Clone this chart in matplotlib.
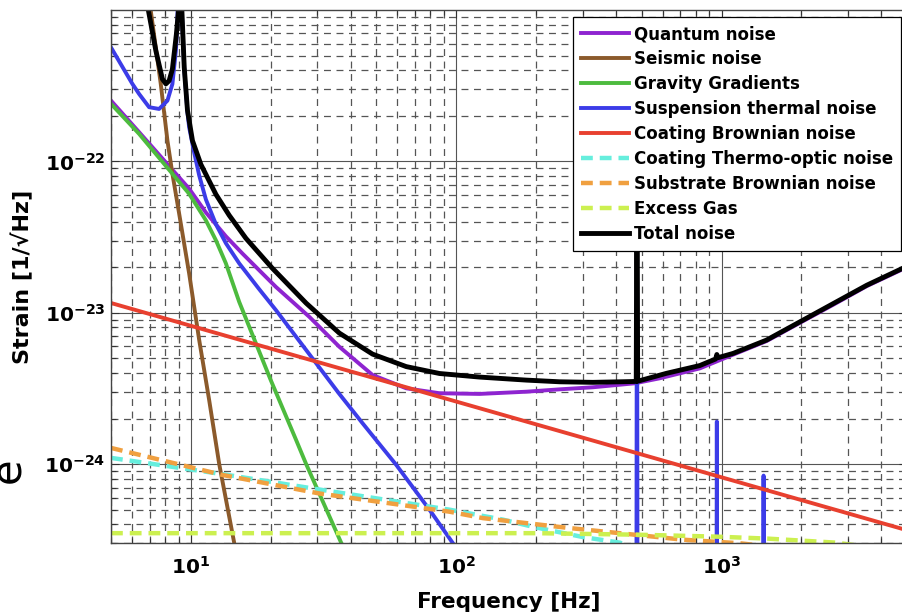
import numpy as np
import matplotlib
matplotlib.use("Agg")
import matplotlib.pyplot as plt
from matplotlib.ticker import LogLocator, FuncFormatter, NullFormatter

plt.rcParams['font.family'] = ['DejaVu Sans']
plt.rcParams['mathtext.fontset'] = 'dejavusans'
plt.rcParams['lines.scale_dashes'] = False

# ---- noise budget curves (frequency in Hz, strain in 1/sqrt(Hz)) ----
quantum_f = [5, 6.38, 9.85, 11.39, 13.55, 15.65, 20.93, 27.95, 36.27, 48.4, 64.8,
             86.5, 122.4, 183.8, 245.3, 327.6, 470.9, 584.9, 828, 1106, 1478,
             1974, 2637, 3526, 5000]
quantum_h = [2.52e-22, 1.56e-22, 6.6e-23, 4.60e-23, 3.20e-23, 2.46e-23, 1.48e-23,
             9.4e-24, 5.96e-24, 3.88e-24, 3.17e-24, 2.94e-24, 2.91e-24, 3.01e-24,
             3.12e-24, 3.22e-24, 3.42e-24, 3.69e-24, 4.29e-24, 5.29e-24, 6.5e-24,
             8.58e-24, 1.13e-23, 1.5e-23, 2.0e-23]

seismic_f = [6.5, 7.06, 7.70, 8.16, 8.52, 9.03, 9.85, 10.75, 11.72, 12.79, 14.57, 16]
seismic_h = [2.6e-21, 9.9e-22, 3.25e-22, 1.37e-22, 8.28e-23, 4.53e-23, 1.82e-23,
             6.6e-24, 2.65e-24, 1.0e-24, 3.01e-25, 1.5e-25]

gravity_f = [5, 6.38, 8.52, 9.85, 11.39, 12.43, 13.55, 15.21, 20.0, 24.9, 27.2, 36.9, 40]
gravity_h = [2.40e-22, 1.52e-22, 8.28e-23, 6.11e-23, 4.08e-23, 3.01e-23, 2.12e-23,
             1.18e-23, 3.59e-24, 1.45e-24, 1.0e-24, 3.01e-25, 2.2e-25]

susp_f = [5, 6.02, 6.38, 6.96, 7.59, 8.16, 8.52, 8.78, 8.90, 9.1, 9.25, 9.44, 9.71,
          9.85, 10.29, 10.75, 11.39, 12.43, 13.55, 15.21, 18.1, 20.93, 27.2, 36.27,
          44.4, 59.4, 79.3, 97.1, 110,
          470, 477, 480, 483, 490,
          950, 955, 960, 965, 970,
          1425, 1435, 1440, 1445, 1455]
susp_h = [5.66e-22, 3.25e-22, 2.79e-22, 2.28e-22, 2.22e-22, 2.52e-22, 3.25e-22,
          5.38e-22, 8.49e-22, 1e-19, 9.5e-22, 4.1e-22, 2.1e-22,
          1.68e-22, 1.145e-22, 8.07e-23, 5.61e-23, 3.84e-23, 2.88e-23, 2.12e-23,
          1.43e-23, 1.04e-23, 5.67e-24, 2.91e-24, 1.86e-24, 9.9e-25, 5.0e-25,
          3.01e-25, 2.2e-25,
          1e-26, 1e-26, 1.5e-22, 1e-26, 1e-26,
          1e-26, 1e-26, 1.91e-24, 1e-26, 1e-26,
          1e-26, 1e-26, 8.4e-25, 1e-26, 1e-26]

coating_f = [5, 5000]
coating_h = [1.16e-23, 3.66e-25]

thermo_f = [5, 13.1, 30.5, 94.5, 150, 194, 300, 414, 500]
thermo_h = [1.1e-24, 8.6e-25, 6.8e-25, 5.0e-25, 4.3e-25, 3.86e-25, 3.3e-25, 3.03e-25, 2.7e-25]

substrate_f = [5, 13.1, 30.5, 94.5, 126, 261, 716, 1176, 2000]
substrate_h = [1.28e-24, 8.5e-25, 6.4e-25, 4.85e-25, 4.4e-25, 3.8e-25, 3.17e-25, 3.0e-25, 2.7e-25]

gas_f = [5, 200, 480, 960, 1500, 2700, 3500]
gas_h = [3.5e-25, 3.5e-25, 3.42e-25, 3.32e-25, 3.22e-25, 3.03e-25, 2.85e-25]

total_f = [6.0, 6.38, 6.92, 7.38, 7.81, 8.05, 8.28, 8.52, 8.82, 8.98, 9.1, 9.25, 9.44,
           9.71, 10.14, 10.91, 12.43, 13.95, 16.13, 20.27, 27.2, 36.27, 48.4,
           64.8, 86.5, 122.4, 183.8, 245.3, 327.6, 450.8, 477, 480, 483, 620, 828,
           950, 960, 970, 1106, 1478, 1974, 2637, 3526, 5000]
total_h = [3.8e-21, 2.1e-21, 9.9e-22, 5.38e-22, 3.5e-22, 3.25e-22, 3.41e-22, 4.08e-22,
           6.94e-22, 9.9e-22, 1e-19, 9.9e-22, 4.18e-22, 2.17e-22, 1.37e-22, 9.54e-23,
           6.05e-23, 4.40e-23, 3.10e-23, 1.97e-23, 1.157e-23, 7.34e-24,
           5.33e-24, 4.41e-24, 3.97e-24, 3.76e-24, 3.59e-24, 3.50e-24, 3.47e-24,
           3.51e-24, 3.52e-24, 1.5e-22, 3.53e-24, 3.98e-24, 4.48e-24, 4.95e-24, 5.3e-24,
           5.05e-24, 5.39e-24, 6.6e-24, 8.71e-24, 1.15e-23, 1.52e-23, 2.03e-23]

labels = ['Quantum noise', 'Seismic noise', 'Gravity Gradients',
          'Suspension thermal noise', 'Coating Brownian noise',
          'Coating Thermo-optic noise', 'Substrate Brownian noise',
          'Excess Gas', 'Total noise']

x_ticks = [10, 100, 1000]
y_ticks = [1e-24, 1e-23, 1e-22]

fig = plt.figure(figsize=(9.02, 6.15), dpi=100)
ax = fig.add_axes([111 / 902, 1 - 543.3 / 615, 796 / 902, 533.3 / 615])
ax.set_xscale('log')
ax.set_yscale('log')

solid_lw = 2.8
dash_lw = 3.2
dash = (0, (8.5, 5.0))

ax.plot(quantum_f, quantum_h, color='#8E24D0', lw=solid_lw, label=labels[0])
ax.plot(seismic_f, seismic_h, color='#8B5A2B', lw=solid_lw, label=labels[1])
ax.plot(gravity_f, gravity_h, color='#4DBB3E', lw=solid_lw, label=labels[2])
ax.plot(susp_f, susp_h, color='#3C3CE8', lw=solid_lw, label=labels[3])
ax.plot(coating_f, coating_h, color='#E8402F', lw=solid_lw, label=labels[4])
ax.plot(thermo_f, thermo_h, color='#66EEDD', lw=dash_lw, ls=dash, label=labels[5])
ax.plot(substrate_f, substrate_h, color='#F0A040', lw=dash_lw, ls=dash, label=labels[6])
ax.plot(gas_f, gas_h, color='#CCF050', lw=dash_lw, ls=dash, label=labels[7])
ax.plot(total_f, total_h, color='black', lw=3.5, label=labels[8])

ax.set_xlim(5, 5000)
ax.set_ylim(3e-25, 1e-21)

fmt = FuncFormatter(lambda v, p: r'$\mathbf{10^{%d}}$' % int(round(np.log10(v))))
ax.set_xticks(x_ticks)
ax.set_yticks(y_ticks)
ax.xaxis.set_major_formatter(fmt)
ax.yaxis.set_major_formatter(fmt)
for axis in (ax.xaxis, ax.yaxis):
    axis.set_minor_locator(LogLocator(base=10, subs=np.arange(2, 10), numticks=100))
    axis.set_minor_formatter(NullFormatter())

ax.tick_params(which='both', direction='in', top=True, right=True, color='#333333')
ax.tick_params(which='major', length=6, width=0.8, labelsize=14.5)
ax.tick_params(which='minor', length=3.5, width=0.8)
ax.tick_params(axis='x', which='major', pad=9)
ax.tick_params(axis='y', which='major', pad=4)

ax.grid(which='major', color='#555555', lw=0.8, ls='-')
ax.grid(which='minor', color='#555555', lw=0.9, ls=(0, (5.0, 4.0)))
for sp in ax.spines.values():
    sp.set_color('#444444')
    sp.set_linewidth(1.0)

ax.set_xlabel('Frequency [Hz]', fontsize=15.5, fontweight='bold')
ax.set_ylabel('Strain [1/\u221aHz]', fontsize=16, fontweight='bold')
ax.xaxis.set_label_coords(0.5, -0.091)
ax.yaxis.set_label_coords(-0.097, 0.5)

leg = ax.legend(loc='upper left', bbox_to_anchor=(573 / 902, 1 - 17.3 / 615),
                bbox_transform=fig.transFigure, borderaxespad=0, frameon=True,
                fancybox=False, framealpha=1, edgecolor='black',
                prop={'size': 12, 'weight': 'bold'}, handlelength=2.88,
                handletextpad=0.3, labelspacing=0.42, borderpad=0.48)
leg.get_frame().set_linewidth(0.9)
leg.set_zorder(10)

fig.text(8 / 902, 1 - 470 / 615, 'e', rotation=90, fontsize=30,
         ha='center', va='center')

fig.savefig('out.png', dpi=100)
